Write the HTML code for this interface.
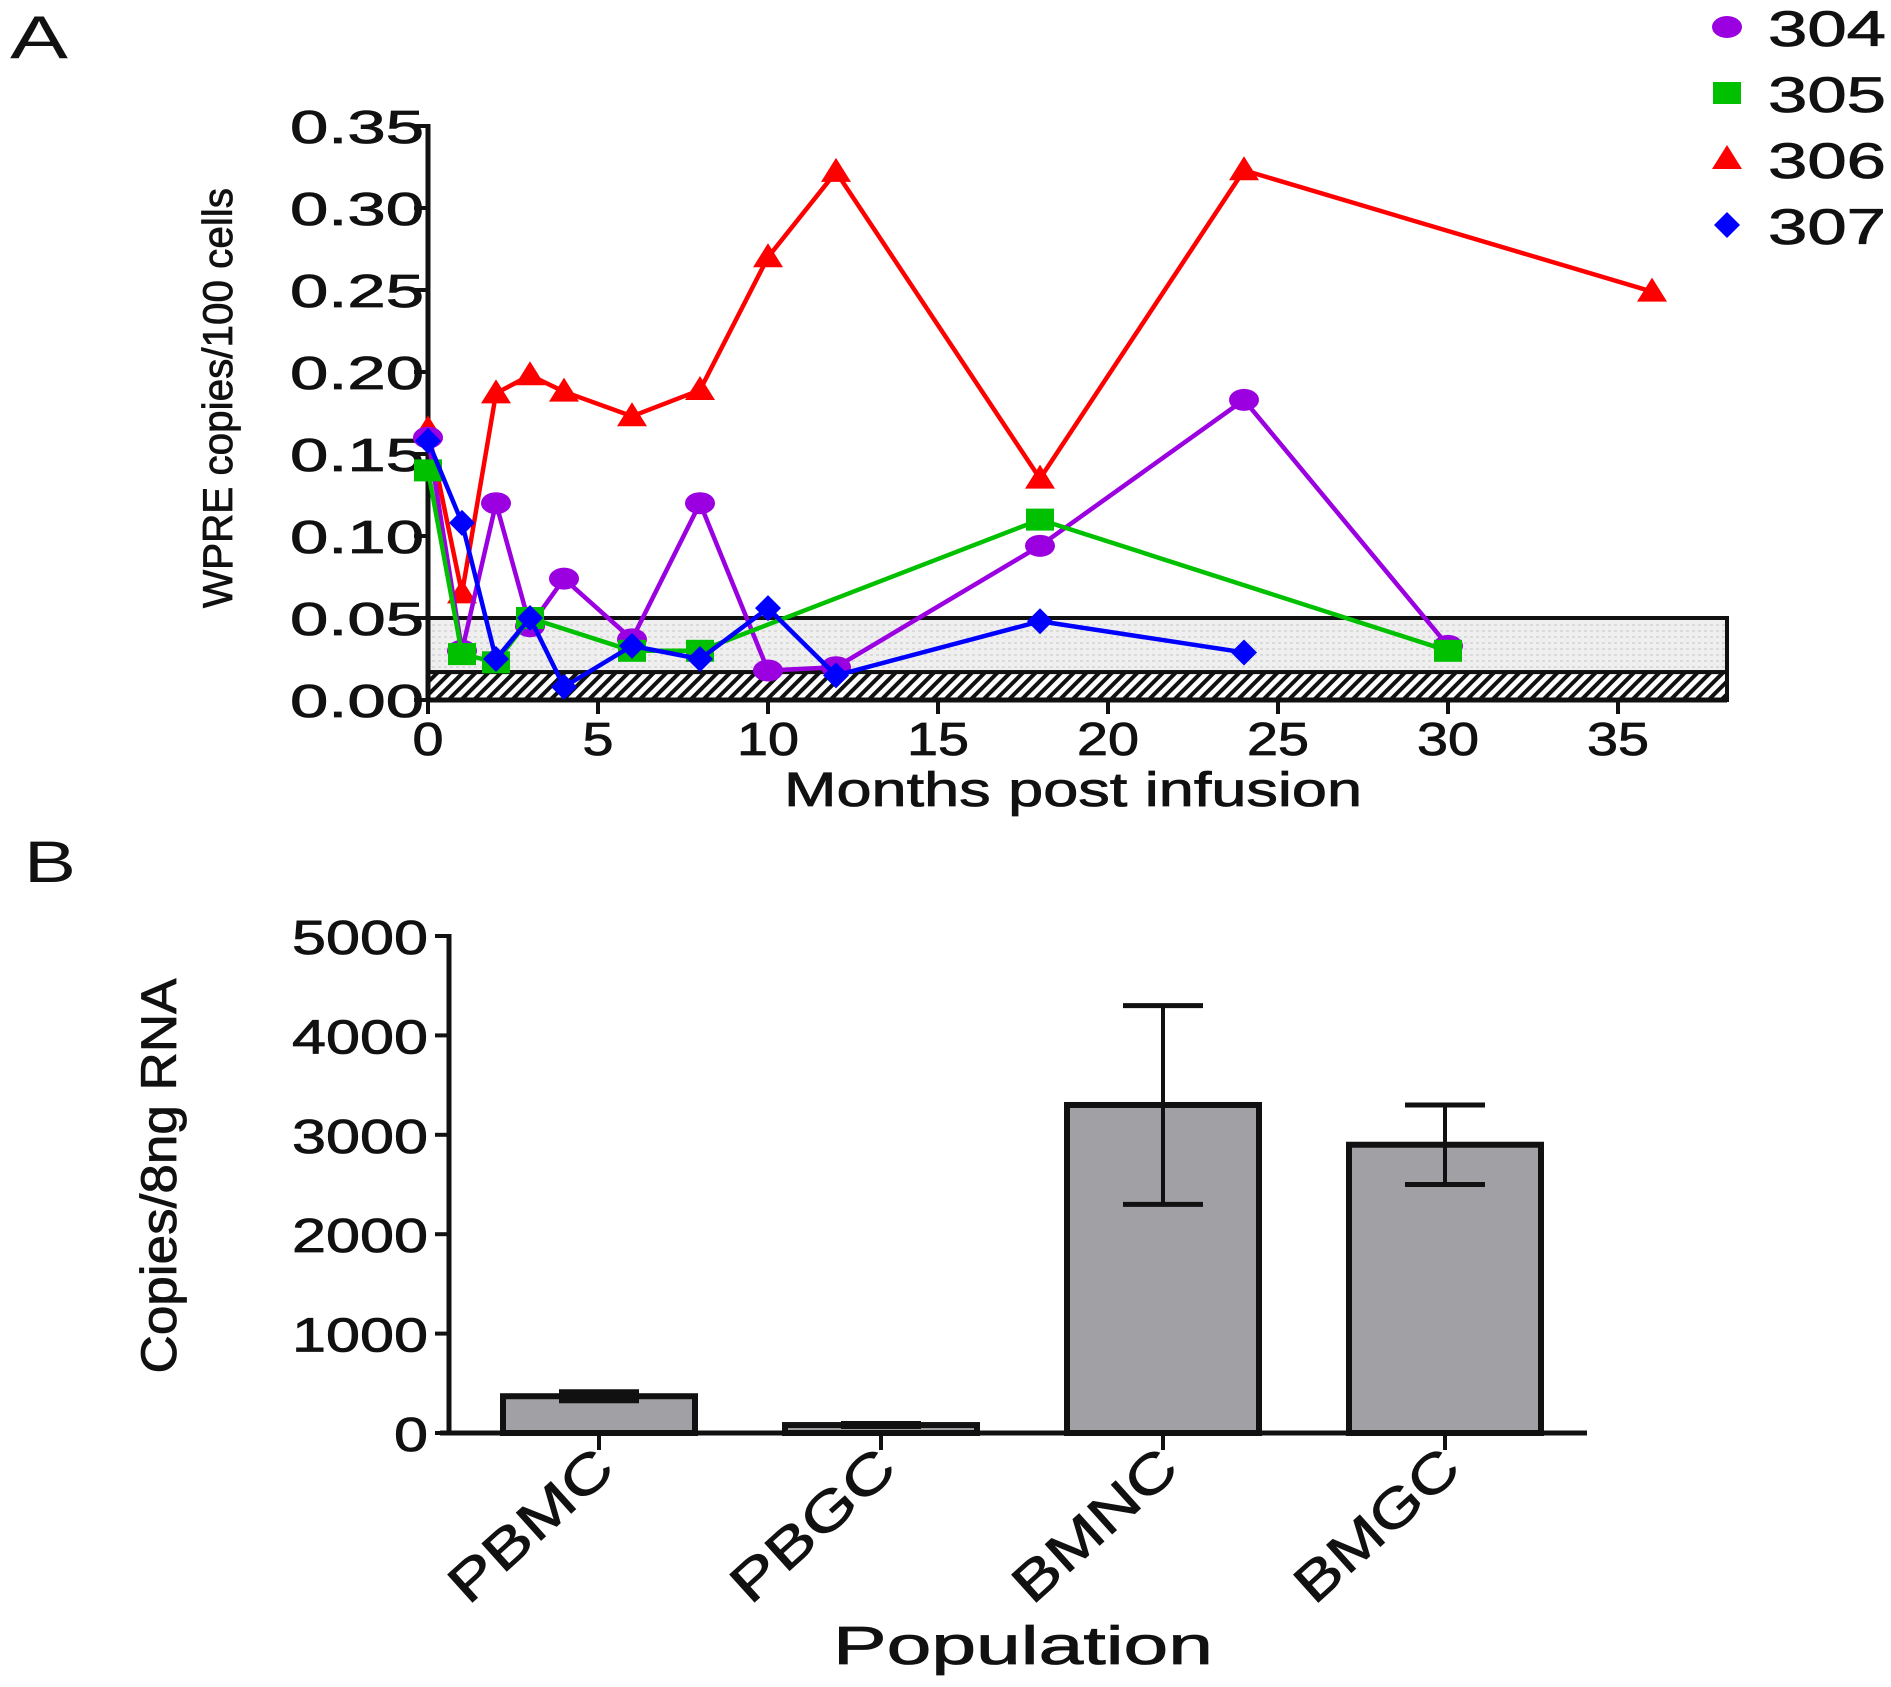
<!DOCTYPE html>
<html><head><meta charset="utf-8"><style>
html,body{margin:0;padding:0;background:#fff;}
svg{display:block;font-family:"Liberation Sans",Arial,sans-serif;}
</style></head><body>
<svg id="fig" width="1891" height="1687" viewBox="0 0 1891 1687">
<defs>
<pattern id="hatch" patternUnits="userSpaceOnUse" width="9" height="9" patternTransform="rotate(45)">
<rect width="9" height="9" fill="#fff"/><rect width="4" height="9" fill="#111"/></pattern>
<pattern id="dots" patternUnits="userSpaceOnUse" width="6" height="6">
<rect width="6" height="6" fill="#efefef"/><rect width="3" height="2" fill="#dadada"/></pattern>
</defs>
<text x="10" y="58" font-size="60" textLength="58" lengthAdjust="spacingAndGlyphs" fill="#111">A</text>
<text x="24" y="882" font-size="58" textLength="52" lengthAdjust="spacingAndGlyphs" fill="#111">B</text>
<g id="chartA"></g>
<g id="legend"></g>
<g id="chartB"></g>
</svg>
<script>
// ---- Panel A data ----
const months304=[0,1,2,3,4,6,8,10,12,18,24,30];
const vals304=[0.160,0.030,0.120,0.045,0.074,0.037,0.120,0.018,0.020,0.094,0.183,0.033];
const months305=[0,1,2,3,6,8,18,30];
const vals305=[0.140,0.028,0.023,0.050,0.030,0.030,0.110,0.030];
const months306=[0,1,2,3,4,6,8,10,12,18,24,36];
const vals306=[0.165,0.065,0.187,0.198,0.188,0.173,0.189,0.270,0.322,0.135,0.323,0.249];
const months307=[0,1,2,3,4,6,8,10,12,18,24];
const vals307=[0.158,0.108,0.025,0.050,0.008,0.033,0.025,0.056,0.015,0.048,0.029];
const xTicksA=[0,5,10,15,20,25,30,35];
const yTicksA=[0,0.05,0.10,0.15,0.20,0.25,0.30,0.35];
const yTickLabelsA=["0.00","0.05","0.10","0.15","0.20","0.25","0.30","0.35"];
const lodLow=0.017, lodHigh=0.050;
const seriesNames=["304","305","306","307"];
// ---- Panel B data ----
const categoriesB=["PBMC","PBGC","BMNC","BMGC"];
const meansB=[370,80,3300,2900];
const errB=[45,15,1000,400];
const yTicksB=[0,1000,2000,3000,4000,5000];

const NS="http://www.w3.org/2000/svg";
function el(tag,attrs,parent){const e=document.createElementNS(NS,tag);for(const k in attrs)e.setAttribute(k,attrs[k]);parent.appendChild(e);return e;}
function txt(x,y,s,size,len,parent,anchor){const t=el("text",{x:x,y:y,"font-size":size,"text-anchor":anchor||"start",fill:"#111",stroke:"#111","stroke-width":0.8},parent);if(len){t.setAttribute("textLength",len);t.setAttribute("lengthAdjust","spacingAndGlyphs");}t.textContent=s;return t;}

const A=document.getElementById("chartA");
const ax=v=>428+v*34.0;
const ay=v=>700-v*(574/0.35);
const xEndA=1727;
let r=el("rect",{x:428,y:ay(lodHigh),width:xEndA-428,height:ay(lodLow)-ay(lodHigh),fill:"url(#dots)",stroke:"#111","stroke-width":4},A);

r=el("rect",{x:428,y:ay(lodLow),width:xEndA-428,height:ay(0)-ay(lodLow),fill:"url(#hatch)",stroke:"#111","stroke-width":4},A);

el("line",{x1:428,y1:ay(0.35)-2,x2:428,y2:702,stroke:"#111","stroke-width":5},A);
el("line",{x1:426,y1:700,x2:xEndA,y2:700,stroke:"#111","stroke-width":5},A);
yTicksA.forEach((v,i)=>{
  el("line",{x1:414,y1:ay(v),x2:428,y2:ay(v),stroke:"#111","stroke-width":4},A);
  const t=txt(424,ay(v)+17,yTickLabelsA[i],46,134,A,"end");
  
});
xTicksA.forEach(v=>{
  el("line",{x1:ax(v),y1:700,x2:ax(v),y2:714,stroke:"#111","stroke-width":4},A);
  const s=String(v);
  const t=txt(ax(v),755,s,46,s.length*31,A,"middle");
  
});
let t=txt(1073,806,"Months post infusion",48,578,A,"middle");

t=txt(0,0,"WPRE copies/100 cells",42,420,A,"middle");
t.setAttribute("transform","translate(232,398) rotate(-90)");


function marker(kind,x,y,c,g){
  if(kind==="circle")return el("ellipse",{cx:x,cy:y,rx:15,ry:11,fill:c},g);
  if(kind==="square")return el("rect",{x:x-14,y:y-11,width:28,height:22,fill:c},g);
  if(kind==="tri")return el("polygon",{points:`${x},${y-14} ${x+15},${y+10} ${x-15},${y+10}`,fill:c},g);
  return el("polygon",{points:`${x},${y-13} ${x+13},${y} ${x},${y+13} ${x-13},${y}`,fill:c},g);
}
const seriesDefs=[
 {m:months306,v:vals306,c:"#ff0000",k:"tri",n:"series-306"},
 {m:months304,v:vals304,c:"#9b00e0",k:"circle",n:"series-304"},
 {m:months305,v:vals305,c:"#00c000",k:"square",n:"series-305"},
 {m:months307,v:vals307,c:"#0000ff",k:"diamond",n:"series-307"}];
seriesDefs.forEach(s=>{
  const g=el("g",{},A);
  
  const pts=s.m.map((m,i)=>ax(m)+","+ay(s.v[i])).join(" ");
  el("polyline",{points:pts,fill:"none",stroke:s.c,"stroke-width":4.5,"stroke-linejoin":"round"},g);
  s.m.forEach((m,i)=>{const p=marker(s.k,ax(m),ay(s.v[i]),s.c,g);
    });
});
const L=document.getElementById("legend");
const legendDefs=[["circle","#9b00e0"],["square","#00c000"],["tri","#ff0000"],["diamond","#0000ff"]];
seriesNames.forEach((n,i)=>{
  const y=27+i*66;
  const g=el("g",{},L);
  
  marker(legendDefs[i][0],1727,y,legendDefs[i][1],g);
  txt(1768,y+19,n,50,118,g,"start");
});

// ---- Panel B ----
const B=document.getElementById("chartB");
const bx=i=>599+i*282;
const by=v=>1433-v*(497/5000);
const bw=192;
categoriesB.forEach((c,i)=>{
  const g=el("g",{},B);
  
  el("rect",{x:bx(i)-bw/2,y:by(meansB[i]),width:bw,height:by(0)-by(meansB[i]),fill:"#a0a0a5",stroke:"#111","stroke-width":6},g);
  const hi=by(meansB[i]+errB[i]),lo=by(meansB[i]-errB[i]);
  el("line",{x1:bx(i),y1:hi,x2:bx(i),y2:lo,stroke:"#111","stroke-width":4},g);
  el("line",{x1:bx(i)-40,y1:hi,x2:bx(i)+40,y2:hi,stroke:"#111","stroke-width":5},g);
  el("line",{x1:bx(i)-40,y1:lo,x2:bx(i)+40,y2:lo,stroke:"#111","stroke-width":5},g);
  el("line",{x1:bx(i),y1:1433,x2:bx(i),y2:1450,stroke:"#111","stroke-width":4},B);
  const t=txt(0,0,c,54,200,B,"end");
  t.setAttribute("transform",`translate(${bx(i)+18},${1472}) rotate(-42)`);
  
});
el("line",{x1:449,y1:by(5000)-2,x2:449,y2:1435,stroke:"#111","stroke-width":5},B);
el("line",{x1:440,y1:1433,x2:1587,y2:1433,stroke:"#111","stroke-width":5},B);
yTicksB.forEach(v=>{
  el("line",{x1:435,y1:by(v),x2:449,y2:by(v),stroke:"#111","stroke-width":4},B);
  const s=String(v);
  const t=txt(428,by(v)+18,s,48,s.length*34,B,"end");
  
});
t=txt(1023,1664,"Population",54,380,B,"middle");

t=txt(0,0,"Copies/8ng RNA",50,395,B,"middle");
t.setAttribute("transform","translate(176,1176) rotate(-90)");

</script>
</body></html>
